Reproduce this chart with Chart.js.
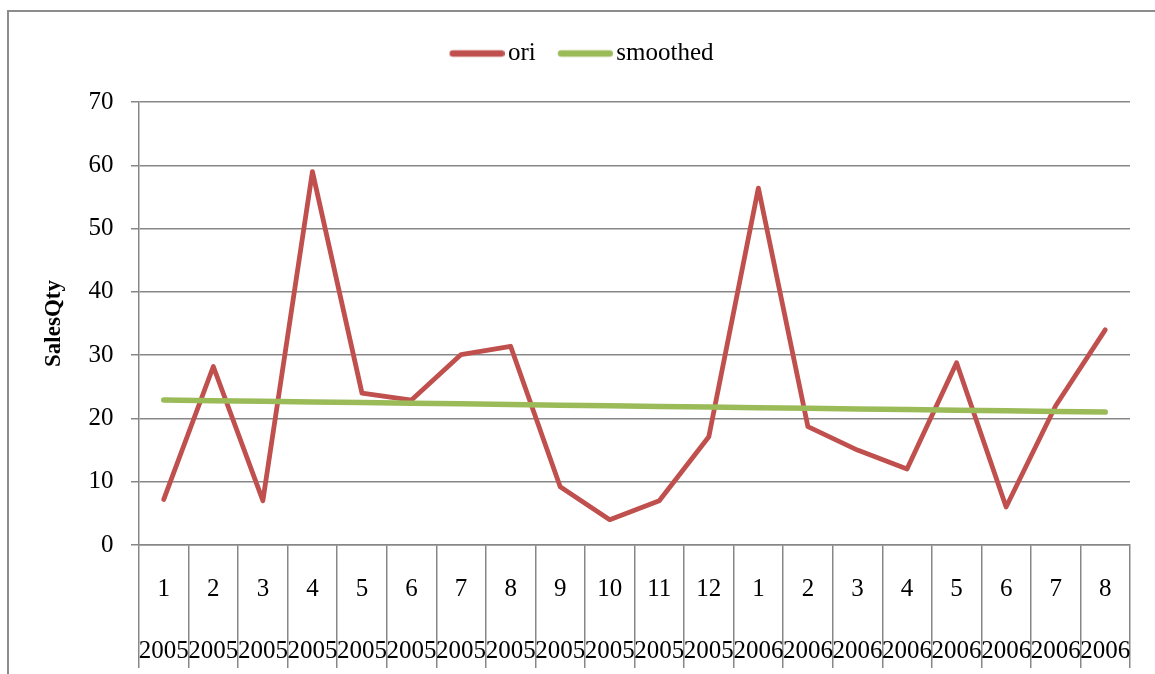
<!DOCTYPE html>
<html>
<head>
<meta charset="utf-8">
<script src="https://cdn.jsdelivr.net/npm/chart.js@4/dist/chart.umd.min.js"></script>
<style>
  html, body { margin: 0; padding: 0; background: #fff; overflow: hidden; }
  body { width: 1155px; height: 674px; position: relative; }
  #frame { position: absolute; left: 7px; top: 10px; width: 1300px; height: 800px;
           border: 2px solid #8c8c8c; box-sizing: border-box; }
  #chart { position: absolute; left: 0; top: 0; }
</style>
</head>
<body>
<div id="frame"></div>
<canvas id="chart" width="1155" height="674"></canvas>
<script>
// Monthly sales quantity, Jan 2005 – Aug 2006
const months = ['1','2','3','4','5','6','7','8','9','10','11','12','1','2','3','4','5','6','7','8'];
const years = ['2005','2005','2005','2005','2005','2005','2005','2005','2005','2005','2005','2005',
               '2006','2006','2006','2006','2006','2006','2006','2006'];
const oriValues = [7.2, 28.2, 7.0, 59.0, 24.0, 22.9, 30.1, 31.4, 9.2, 4.0,
                   7.0, 17.1, 56.4, 18.7, 15.0, 12.0, 28.8, 6.0, 22.0, 34.0];
const smoothedValues = [22.9, 22.8, 22.7, 22.6, 22.5, 22.4, 22.3, 22.2, 22.1, 22.0,
                        21.9, 21.8, 21.7, 21.6, 21.5, 21.4, 21.3, 21.2, 21.1, 21.0];
const yTicks = [0, 10, 20, 30, 40, 50, 60, 70];

const RED = '#C0504D';
const GREEN = '#9BBB59';
const AXIS = '#878787';
const FONT = 'Liberation Serif';

// Two-level category labels: month on the first line, year on the second
const categoryLabels = months.map((m, i) => [m, years[i]]);

// Legend swatch: a short rounded bar, drawn slightly right of the box centre
// so that the text sits close to it.
function swatch(color, width) {
  const c = document.createElement('canvas');
  c.width = 64; c.height = 10;
  const ctx = c.getContext('2d');
  ctx.strokeStyle = color;
  ctx.lineWidth = width;
  ctx.lineCap = 'round';
  ctx.beginPath();
  ctx.moveTo(9 + width / 2, 5);
  ctx.lineTo(64 - width / 2, 5);
  ctx.stroke();
  return c;
}
const swatches = [swatch(RED, 6.5), swatch(GREEN, 6.5)];

// Extra room under the legend before the plot area starts
const legendSpace = {
  id: 'legendSpace',
  beforeLayout(chart) {
    const legend = chart.legend;
    if (legend && !legend._spaced) {
      const fit = legend.fit.bind(legend);
      legend.fit = function () { fit(); this.height = 83; };
      legend._spaced = true;
    }
  }
};

new Chart(document.getElementById('chart'), {
  type: 'line',
  data: {
    labels: categoryLabels,
    datasets: [
      {
        label: 'ori',
        data: oriValues,
        borderColor: RED,
        backgroundColor: RED,
        borderWidth: 4.8,
        borderCapStyle: 'round',
        borderJoinStyle: 'round',
        pointRadius: 0,
        tension: 0,
        order: 1
      },
      {
        label: 'smoothed',
        data: smoothedValues,
        borderColor: GREEN,
        backgroundColor: GREEN,
        borderWidth: 5.5,
        borderCapStyle: 'round',
        borderJoinStyle: 'round',
        pointRadius: 0,
        tension: 0,
        order: 0
      }
    ]
  },
  options: {
    responsive: false,
    devicePixelRatio: 1,
    animation: false,
    layout: { padding: { left: 33, top: 19, right: 25, bottom: 0 } },
    plugins: {
      tooltip: { enabled: false },
      legend: {
        position: 'top',
        align: 'center',
        labels: {
          usePointStyle: true,
          pointStyleWidth: 46,
          padding: 22,
          color: '#000',
          font: { family: FONT, size: 25 },
          sort: (a, b) => a.datasetIndex - b.datasetIndex,
          generateLabels(chart) {
            const items = Chart.defaults.plugins.legend.labels.generateLabels(chart);
            items.forEach(it => { it.pointStyle = swatches[it.datasetIndex]; });
            return items;
          }
        }
      }
    },
    scales: {
      x: {
        type: 'category',
        offset: true,
        grid: {
          display: true,
          offset: true,
          drawOnChartArea: false,
          drawTicks: true,
          tickLength: 123,
          color: AXIS,
          lineWidth: 1.5
        },
        border: { display: true, color: AXIS, width: 1.5 },
        ticks: {
          autoSkip: false,
          maxRotation: 0,
          minRotation: 0,
          padding: -110,
          color: '#000',
          font: { family: FONT, size: 25, lineHeight: 2.48 }
        },
        afterFit(scale) { scale.height = 129; }
      },
      y: {
        min: 0,
        max: 70,
        afterBuildTicks(scale) { scale.ticks = yTicks.map(v => ({ value: v })); },
        grid: {
          color: AXIS,
          lineWidth: 1.5,
          drawTicks: true,
          tickLength: 8
        },
        border: { display: true, color: AXIS, width: 1.5 },
        ticks: {
          padding: 17.5,
          color: '#000',
          font: { family: FONT, size: 25 }
        },
        title: {
          display: true,
          text: 'SalesQty',
          color: '#000',
          font: { family: FONT, size: 23, weight: 'bold' },
          padding: { top: 7, bottom: 0 }
        },
        afterFit(scale) { scale.width = 106; }
      }
    }
  },
  plugins: [legendSpace]
});
</script>
</body>
</html>
